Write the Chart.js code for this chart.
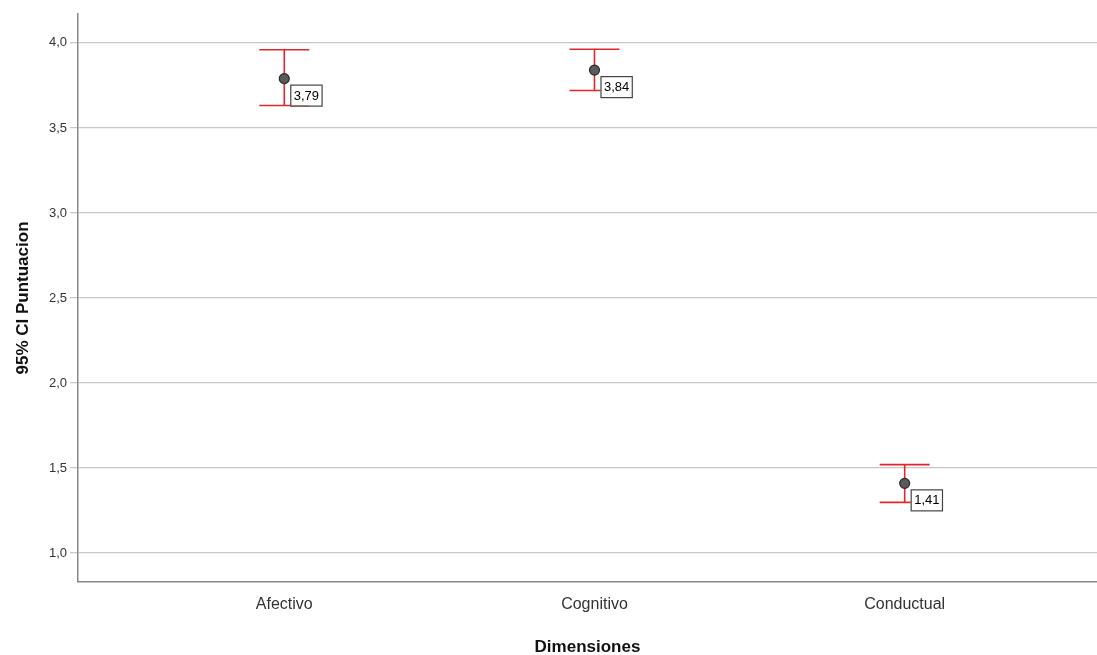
<!DOCTYPE html>
<html>
<head>
<meta charset="utf-8">
<script src="https://cdn.jsdelivr.net/npm/chart.js@4/dist/chart.umd.min.js"></script>
<style>
  html, body { margin: 0; padding: 0; background: #fff; }
  #wrap { width: 1097px; height: 655px; }
</style>
</head>
<body>
<div id="wrap"><canvas id="ci-chart"></canvas></div>
<script>
// data
let categories = ["Afectivo", "Cognitivo", "Conductual"];
let means      = [3.79, 3.84, 1.41];
let upper      = [3.96, 3.963, 1.52];
let lower      = [3.632, 3.72, 1.298];
let yTicks     = [1.0, 1.5, 2.0, 2.5, 3.0, 3.5, 4.0];

let red = "#e3262b";

function fmt(v, d){ return v.toFixed(d).replace(".", ","); }

// whiskers + value boxes, drawn through the chart's scales
let ciPlugin = {
	id: "ciBars",
	afterDatasetsDraw(chart){
		let ctx = chart.ctx, xs = chart.scales.x, ys = chart.scales.y;
		ctx.save();
		ctx.strokeStyle = red;
		ctx.lineWidth = 1.6;
		for(let i=0; i<categories.length; i++){
			let px = xs.getPixelForValue(i+1);
			let pu = ys.getPixelForValue(upper[i]);
			let pl = ys.getPixelForValue(lower[i]);
			ctx.beginPath();
			ctx.moveTo(px, pu); ctx.lineTo(px, pl);
			ctx.moveTo(px-25, pu); ctx.lineTo(px+25, pu);
			ctx.moveTo(px-25, pl); ctx.lineTo(px+25, pl);
			ctx.stroke();
		}
		// points on top of the whiskers, then the value boxes
		for(let i=0; i<categories.length; i++){
			let px = xs.getPixelForValue(i+1);
			let pm = ys.getPixelForValue(means[i]);
			ctx.beginPath();
			ctx.arc(px, pm, 5, 0, Math.PI*2);
			ctx.fillStyle = "#5a5a5a";
			ctx.fill();
			ctx.lineWidth = 1.2;
			ctx.strokeStyle = "#2a2a2a";
			ctx.stroke();

			let txt = fmt(means[i], 2);
			ctx.font = "13px 'Liberation Sans', Arial, sans-serif";
			let w = ctx.measureText(txt).width + 6;
			let bx = px + 6, by = pm + 6;
			ctx.fillStyle = "#fff";
			ctx.fillRect(bx, by, w, 21);
			ctx.lineWidth = 1.2;
			ctx.strokeStyle = "#444";
			ctx.strokeRect(bx + 0.5, by + 0.5, w, 21);
			ctx.fillStyle = "#000";
			ctx.textBaseline = "middle";
			ctx.fillText(txt, bx + 3.5, by + 11.5);
		}
		ctx.restore();
	}
};

let ctx = document.getElementById("ci-chart").getContext("2d");

new Chart(ctx, {
	type: "scatter",
	data: {
		datasets: [{
			label: "Media",
			data: means.map((m, i) => ({x: i+1, y: m})),
			pointRadius: 0
		}]
	},
	options: {
		responsive: true,
		maintainAspectRatio: false,
		animation: false,
		layout: { padding: { top: 14, right: 0, left: 0, bottom: 0 } },
		plugins: { legend: { display: false }, tooltip: { enabled: false } },
		scales: {
			x: {
				type: "linear",
				min: 0.335,
				max: 3.62,
				afterBuildTicks: s => { s.ticks = categories.map((c, i) => ({value: i+1})); },
				afterFit: s => { s.height = 73; },
				grid: { display: false, drawTicks: false },
				border: { display: true, color: "#888", width: 1.5 },
				ticks: {
					padding: 13,
					color: "#333",
					font: { family: "'Liberation Sans', Arial, sans-serif", size: 16 },
					callback: v => categories[Math.round(v) - 1]
				},
				title: {
					display: true,
					text: "Dimensiones",
					color: "#111",
					padding: { top: 0, bottom: -3 },
					font: { family: "'Liberation Sans', Arial, sans-serif", size: 17, weight: "bold" }
				}
			},
			y: {
				min: 0.83,
				max: 4.17,
				afterBuildTicks: s => { s.ticks = yTicks.map(v => ({value: v})); },
				afterFit: s => { s.width = 78; },
				grid: { color: "#c8c8c8", lineWidth: 1.3, tickLength: 8, tickColor: "#c8c8c8" },
				border: { display: true, color: "#888", width: 1.5 },
				ticks: {
					padding: 3,
					color: "#333",
					font: { family: "'Liberation Sans', Arial, sans-serif", size: 13 },
					callback: v => fmt(v, 1)
				},
				title: {
					display: true,
					text: "95% CI Puntuacion",
					color: "#111",
					padding: { top: 13, bottom: 0 },
					font: { family: "'Liberation Sans', Arial, sans-serif", size: 17, weight: "bold" }
				}
			}
		}
	},
	plugins: [ciPlugin]
});
</script>
</body>
</html>
